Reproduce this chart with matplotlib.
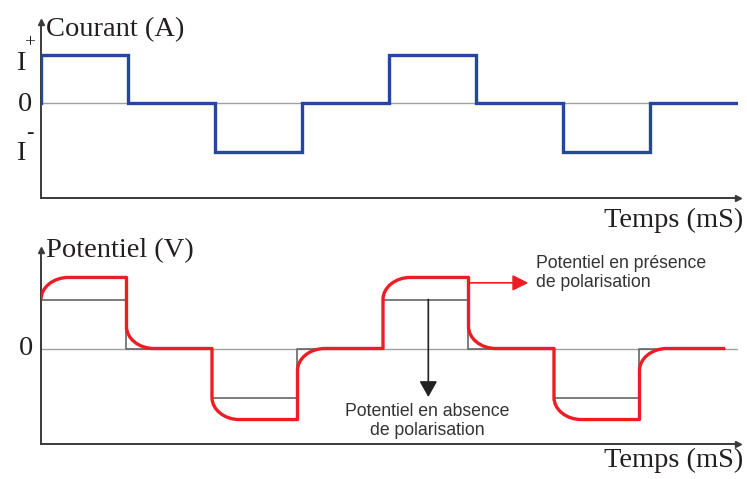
import numpy as np
import matplotlib.pyplot as plt
from matplotlib.path import Path
from matplotlib.patches import PathPatch

# data: one level per time slot (8 slots)
slots = np.arange(9)                      # slot edges 0..8
courant = [1, 0, -1, 0, 1, 0, -1, 0]      # I+, 0, I-, 0 ...
pot_sans_pol = [1, 0, -1, 0, 1, 0, -1, 0]             # potentiel en absence de polarisation
pot_avec_pol = [1.45, 0, -1.45, 0, 1.45, 0, -1.45, 0]  # potentiel en présence de polarisation

W, H = 747, 479
BLUE = '#26459d'
RED = '#ee1c24'
AXC = '#3a3a3a'
TXT = '#231f20'
SERIF = 'Liberation Serif'
SANS = 'Liberation Sans'

fig = plt.figure(figsize=(W / 100, H / 100), dpi=100)


def px_axes(x0, y0, x1, y1):
    return fig.add_axes([x0 / W, 1 - y1 / H, (x1 - x0) / W, (y1 - y0) / H])


def txt(x, y, s, **kw):
    kw.setdefault('color', TXT)
    fig.text(x / W, 1 - y / H, s, **kw)


def style(ax):
    for side in ['top', 'right']:
        ax.spines[side].set_visible(False)
    for side in ['left', 'bottom']:
        ax.spines[side].set_color(AXC)
        ax.spines[side].set_linewidth(1.4)
    ax.set_xticks([])
    ax.set_yticks([])
    ax.patch.set_alpha(0)
    ax.plot(1, 0, '>', transform=ax.transAxes, clip_on=False, color=AXC, ms=5)
    ax.plot(0, 1, '^', transform=ax.transAxes, clip_on=False, color=AXC, ms=5)
    ax.axhline(0, color='#a0a0a0', lw=1.0, zorder=1)


def steps(levels):
    x = np.concatenate([[slots[0]], np.repeat(slots, 2)[1:-1]])
    y = np.concatenate([[0], np.repeat(levels, 2)])
    return x, y


def polar_path(ohm, pol, w=0.32, k=0.55):
    verts, codes = [], []
    prev_o, prev_p = 0, 0
    for i, (o, p) in enumerate(zip(ohm, pol)):
        t0, t1 = slots[i], slots[i + 1]
        s = o + (prev_p - prev_o)
        verts.append((t0, s))
        codes.append(Path.MOVETO if i == 0 else Path.LINETO)
        if abs(p - s) > 1e-9:
            verts += [(t0, s + k * (p - s)), (t0 + w * (1 - k), p), (t0 + w, p)]
            codes += [Path.CURVE4] * 3
        verts.append((t1, p))
        codes.append(Path.LINETO)
        prev_o, prev_p = o, p
    return Path(verts, codes)


# --- courant ---
top = px_axes(41, 22, 738, 198)
style(top)
top.set_xlim(0, 697 / 87)
top.set_ylim(-95 / 48.5, 81 / 48.5)
x, y = steps(courant)
top.plot(x, y, color=BLUE, lw=2.4, solid_joinstyle='miter', zorder=3)

# --- potentiel ---
bot = px_axes(41, 250, 738, 444)
style(bot)
bot.set_xlim(0, 697 / 85.5)
bot.set_ylim(-95.5 / 49, 98.5 / 49)
x, y = steps(pot_sans_pol)
bot.plot(x, y, color='#666666', lw=1.2, zorder=2)
bot.add_patch(PathPatch(polar_path(pot_sans_pol, pot_avec_pol), fill=False,
                        edgecolor=RED, lw=2.4, joinstyle='round', zorder=3))

bot.annotate('', xy=(5.7, 1.34), xytext=(5.0, 1.34),
             arrowprops=dict(arrowstyle='-|>,head_length=0.8,head_width=0.4',
                             color=RED, lw=1.2, mutation_scale=12,
                             shrinkA=0, shrinkB=0))
bot.annotate('', xy=(4.53, -0.99), xytext=(4.53, 1.0),
             arrowprops=dict(arrowstyle='-|>,head_length=0.8,head_width=0.45',
                             color='#222222', lw=1.2, mutation_scale=12,
                             shrinkA=0, shrinkB=0))

txt(536, 273, 'Potentiel en présence\nde polarisation', family=SANS, fontsize=12.7,
    color='#333333', ha='left', va='center', linespacing=1.1)
txt(427, 421, 'Potentiel en absence\nde polarisation', family=SANS, fontsize=12.7,
    color='#333333', ha='center', va='center', linespacing=1.1)

# --- labels ---
txt(46, 36, 'Courant (A)', family=SERIF, fontsize=20.5, va='baseline')
txt(743, 227, 'Temps (mS)', family=SERIF, fontsize=20.5, va='baseline', ha='right')
txt(46, 257, 'Potentiel (V)', family=SERIF, fontsize=20.5, va='baseline')
txt(743, 467, 'Temps (mS)', family=SERIF, fontsize=20.5, va='baseline', ha='right')

txt(21, 70, 'I', family=SERIF, fontsize=20.5, va='baseline', ha='center')
txt(30, 43, '+', family=SERIF, fontsize=14, va='center', ha='center')
txt(25, 111, '0', family=SERIF, fontsize=20.5, va='baseline', ha='center')
txt(21, 160, 'I', family=SERIF, fontsize=20.5, va='baseline', ha='center')
txt(30, 133, '-', family=SERIF, fontsize=16, va='center', ha='center')
txt(26, 355, '0', family=SERIF, fontsize=20.5, va='baseline', ha='center')

fig.savefig('out.png', dpi=100, facecolor='white')
